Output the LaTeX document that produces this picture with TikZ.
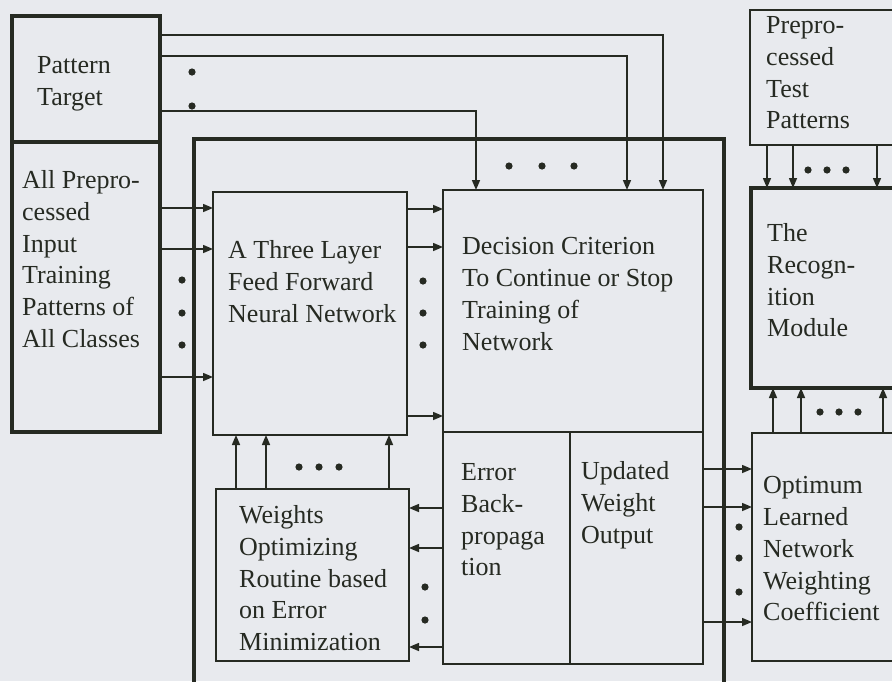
\documentclass[tikz,border=0pt]{standalone}
\usepackage{fontspec}
\setmainfont{Liberation Serif}
\usetikzlibrary{arrows.meta}
\definecolor{ink}{RGB}{38,42,34}
\definecolor{paper}{RGB}{232,234,238}
\newcommand{\tf}{\fontsize{26}{31.7}\selectfont}
\begin{document}
\begin{tikzpicture}[x=1pt,y=-1pt,
  box/.style={draw=ink, line width=1.8pt, inner sep=0pt, outer sep=0pt, anchor=north west},
  tbox/.style={box, line width=3.2pt},
  txt/.style={anchor=north west, inner sep=0pt, align=left, font=\tf, text=ink},
  arr/.style={draw=ink, line width=1.5pt, -{Triangle[length=10pt,width=8pt]}},
  dot/.style={fill=ink}
]
\useasboundingbox (0,0) rectangle (892,681);
\clip (0,0) rectangle (892,681);
\fill[paper] (0,0) rectangle (892,681);

% boxes
\node[tbox, minimum width=148pt, minimum height=126pt] (pt) at (12,16) {};
\node[tbox, minimum width=148pt, minimum height=290pt] (inp) at (12,142) {};
\node[tbox, minimum width=530pt, minimum height=600pt] (frame) at (194,139) {};
\node[box, minimum width=194pt, minimum height=243pt] (nn) at (213,192) {};
\node[box, minimum width=260pt, minimum height=242pt] (dec) at (443,190) {};
\node[box, minimum width=127pt, minimum height=232pt] (err) at (443,432) {};
\node[box, minimum width=133pt, minimum height=232pt] (upd) at (570,432) {};
\node[box, minimum width=193pt, minimum height=172pt] (wts) at (216,489) {};
\node[box, minimum width=180pt, minimum height=135pt] (test) at (750,10) {};
\node[tbox, minimum width=180pt, minimum height=200pt] (rec) at (751,188) {};
\node[box, minimum width=180pt, minimum height=228pt] (opt) at (752,433) {};

% texts
\node[txt] (tpt) at (37,56.5) {Pattern\\Target};
\node[txt] (tinp) at (22,170.5) {All Prepro-\\cessed\\Input\\Training\\Patterns of\\All Classes};
\node[txt] (tnn) at (228,240.5) {A Three Layer\\Feed Forward\\Neural Network};
\node[txt] (tdec) at (462,237.5) {Decision Criterion\\To Continue or Stop\\Training of\\Network};
\node[txt] (terr) at (461,463.5) {Error\\Back-\\propaga\\tion};
\node[txt] (tupd) at (581,461.5) {Updated\\Weight\\Output};
\node[txt] (twts) at (239,505.5) {Weights\\Optimizing\\Routine based\\on Error\\Minimization};
\node[txt] (topt) at (763,476.5) {Optimum\\Learned\\Network\\Weighting\\Coefficient};
\node[txt] (trec) at (767,223.5) {The\\Recogn-\\ition\\Module};
\node[txt] (ttest) at (766,16.5) {Prepro-\\cessed\\Test\\Patterns};

% pattern target to decision
\draw[arr] (pt.east |- 0,35) -| (dec.north -| 663,0);
\draw[arr] (pt.east |- 0,56) -| (dec.north -| 627,0);
\draw[arr] (pt.east |- 0,111) -| (dec.north -| 476,0);
\foreach \y in {72,106} \fill[dot] (192,\y) circle (3.6pt);
\foreach \x in {509,542,574} \fill[dot] (\x,166) circle (3.6pt);

% inputs to network
\foreach \y in {208,249,377} \draw[arr] (inp.east |- 0,\y) -- (nn.west |- 0,\y);
\foreach \y in {280,313,345} \fill[dot] (182,\y) circle (3.6pt);

% network to decision
\foreach \y in {209,247,416} \draw[arr] (nn.east |- 0,\y) -- (dec.west |- 0,\y);
\foreach \y in {281,313,345} \fill[dot] (423,\y) circle (3.6pt);

% weights to network
\foreach \x in {236,266,389} \draw[arr] (wts.north -| \x,0) -- (nn.south -| \x,0);
\foreach \x in {299,319,339} \fill[dot] (\x,467) circle (3.6pt);

% error to weights
\foreach \y in {508,548,647} \draw[arr] (err.west |- 0,\y) -- (wts.east |- 0,\y);
\foreach \y in {587,620} \fill[dot] (425,\y) circle (3.6pt);

% updated weights to optimum
\foreach \y in {469,507,622} \draw[arr] (upd.east |- 0,\y) -- (opt.west |- 0,\y);
\foreach \y in {527,558,592} \fill[dot] (739,\y) circle (3.6pt);

% test patterns to recognition
\foreach \x in {767,793,877} \draw[arr] (test.south -| \x,0) -- (rec.north -| \x,0);
\foreach \x in {808,827,846} \fill[dot] (\x,170) circle (3.6pt);

% optimum to recognition
\foreach \x in {773,801,883} \draw[arr] (opt.north -| \x,0) -- (rec.south -| \x,0);
\foreach \x in {820,839,858} \fill[dot] (\x,412) circle (3.6pt);
\end{tikzpicture}
\end{document}
